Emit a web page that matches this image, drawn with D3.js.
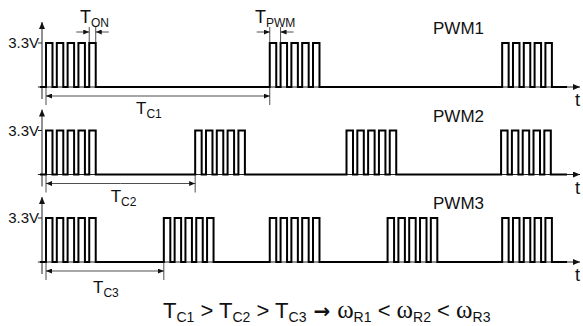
<!DOCTYPE html>
<html>
<head>
<meta charset="utf-8">
<script src="https://cdn.jsdelivr.net/npm/d3@7"></script>
<style>
  body { margin: 0; background: #fff; }
  svg { display: block; font-family: 'Liberation Sans', Arial, sans-serif; }
</style>
</head>
<body>
<div id="chart"></div>
<script>
// signals, time in PWM periods (T_PWM = 1)
const signals = ['PWM1', 'PWM2', 'PWM3'];
const burstStarts = [
  [0, 20.7, 42.2],
  [0, 13.8, 27.8, 42.1],
  [0, 10.9, 20.7, 31.6, 42.2]
];
const cycleNames = ['C1', 'C2', 'C3'];
const pulsesPerBurst = 5;
const dutyCycle = 0.6;
const highLevel = 3.3;
const levelLabel = '3.3V';
const tStart = -0.55, tEnd = 48.2, tAxisEnd = 49.4;

const width = 583, height = 326;

const svg = d3.select('#chart').append('svg')
  .attr('width', width)
  .attr('height', height);

const x = d3.scaleLinear().domain([0, tAxisEnd]).range([46, 580]);
const row = d3.scalePoint().domain(signals).range([87, 262]);
const v = d3.scaleLinear().domain([0, highLevel]).range([0, -44]);

const defs = svg.append('defs');
function marker(id, w, h) {
  defs.append('marker')
    .attr('id', id)
    .attr('viewBox', `0 -${h} ${w} ${2 * h}`)
    .attr('refX', w).attr('refY', 0)
    .attr('markerWidth', w).attr('markerHeight', 2 * h)
    .attr('markerUnits', 'userSpaceOnUse')
    .attr('orient', 'auto')
    .append('path')
    .attr('d', `M0,-${h}L${w},0L0,${h}Z`)
    .attr('fill', '#111');
}
marker('head', 6, 2.5);
marker('axhead', 7, 3);

// builds the square wave as a list of points
function wave(starts) {
  const pts = [[tStart, 0]];
  starts.forEach(s => {
    d3.range(pulsesPerBurst).forEach(k => {
      const a = s + k, b = s + k + dutyCycle;
      pts.push([a, 0], [a, highLevel], [b, highLevel], [b, 0]);
    });
  });
  pts.push([tEnd, 0]);
  return pts;
}

const line = d3.line().x(d => x(d[0])).y(d => v(d[1]));

function sub(sel, main, subText, size, subSize) {
  sel.append('tspan').text(main).attr('font-size', size);
  sel.append('tspan').text(subText).attr('font-size', subSize).attr('dy', subSize * 0.35);
}

// arrow between two x positions, heads pointing outward
function dimArrow(g, xa, xb, y) {
  const mid = (xa + xb) / 2;
  [xa, xb].forEach(end => {
    g.append('line')
      .attr('x1', mid).attr('x2', end).attr('y1', y).attr('y2', y)
      .attr('stroke', '#222').attr('stroke-width', 0.8)
      .attr('marker-end', 'url(#head)');
  });
}

const labelDx = [-9, 3, 1];

signals.forEach((name, i) => {
  const g = svg.append('g').attr('transform', `translate(0,${row(name)})`);
  const starts = burstStarts[i];

  // axes
  g.append('line')
    .attr('x1', 42).attr('x2', 42)
    .attr('y1', 12).attr('y2', v(highLevel) - 21)
    .attr('stroke', '#222').attr('stroke-width', 1)
    .attr('marker-end', 'url(#axhead)');
  g.append('line')
    .attr('x1', x(-0.75)).attr('x2', x(tAxisEnd))
    .attr('y1', 0).attr('y2', 0)
    .attr('stroke', '#222').attr('stroke-width', 1)
    .attr('marker-end', 'url(#axhead)');
  g.append('line')
    .attr('x1', 38).attr('x2', 42)
    .attr('y1', v(highLevel)).attr('y2', v(highLevel))
    .attr('stroke', '#222');
  g.append('text')
    .attr('x', 39).attr('y', v(highLevel) + 5)
    .attr('text-anchor', 'end')
    .attr('font-size', 15)
    .attr('fill', '#111')
    .text(levelLabel);
  g.append('text')
    .attr('x', 575).attr('y', 19)
    .attr('font-size', 18)
    .attr('fill', '#111')
    .text('t');
  g.append('text')
    .attr('x', 433).attr('y', v(highLevel) - 9)
    .attr('font-size', 17)
    .attr('fill', '#111')
    .text(name);

  // signal
  g.append('path')
    .attr('d', line(wave(starts)))
    .attr('fill', 'none')
    .attr('stroke', '#000')
    .attr('stroke-width', 2);

  // cycle period T_C
  const c0 = x(starts[0]), c1 = x(starts[1]);
  [c0, c1].forEach(cx => {
    g.append('line')
      .attr('x1', cx).attr('x2', cx).attr('y1', 0).attr('y2', 18)
      .attr('stroke', '#222').attr('stroke-width', 0.8);
  });
  dimArrow(g, c0, c1, 9);
  g.append('text')
    .attr('x', (c0 + c1) / 2 + labelDx[i]).attr('y', i === 2 ? 31 : 27)
    .attr('text-anchor', 'middle')
    .attr('fill', '#111')
    .call(sub, 'T', cycleNames[i], 17, 12);

  // T_ON and T_PWM on the first signal
  if (i === 0) {
    const top = v(highLevel);
    const dims = [
      { a: x(pulsesPerBurst - 1), b: x(pulsesPerBurst - 1 + dutyCycle), lab: 'ON', lx: 80 },
      { a: x(starts[1]), b: x(starts[1] + 1), lab: 'PWM', lx: 255 }
    ];
    dims.forEach(d => {
      [d.a, d.b].forEach(px => {
        g.append('line')
          .attr('x1', px).attr('x2', px).attr('y1', top).attr('y2', top - 16)
          .attr('stroke', '#222').attr('stroke-width', 0.8);
      });
      g.append('line')
        .attr('x1', d.a - 13).attr('x2', d.a).attr('y1', top - 11).attr('y2', top - 11)
        .attr('stroke', '#222').attr('stroke-width', 0.8)
        .attr('marker-end', 'url(#head)');
      g.append('line')
        .attr('x1', d.b + 13).attr('x2', d.b).attr('y1', top - 11).attr('y2', top - 11)
        .attr('stroke', '#222').attr('stroke-width', 0.8)
        .attr('marker-end', 'url(#head)');
      g.append('text')
        .attr('x', d.lx).attr('y', top - 20)
        .attr('fill', '#111')
        .call(sub, 'T', d.lab, 18, 12);
    });
  }
});

// relation at the bottom
const rel = svg.append('text')
  .attr('x', 163).attr('y', 318)
  .attr('font-size', 22)
  .attr('fill', '#111');
const parts = [
  ['T', 'C1', ' > '], ['T', 'C2', ' > '], ['T', 'C3', ' \u2192 '],
  ['\u03c9', 'R1', ' < '], ['\u03c9', 'R2', ' < '], ['\u03c9', 'R3', '']
];
parts.forEach(p => {
  const isOmega = p[0] === '\u03c9';
  const isArrow = p[2].includes('\u2192');
  rel.append('tspan').text(p[0])
    .attr('font-family', isOmega ? "'Liberation Serif', serif" : null)
    .attr('font-size', isOmega ? 25 : null);
  rel.append('tspan').text(p[1]).attr('font-size', 14).attr('dy', 4);
  rel.append('tspan').text(p[2]).attr('dy', -4)
    .attr('font-weight', isArrow ? 'bold' : null)
    .attr('font-family', isArrow ? "'DejaVu Sans', sans-serif" : null)
    .attr('font-size', isArrow ? 20 : null);
});
</script>
</body>
</html>
